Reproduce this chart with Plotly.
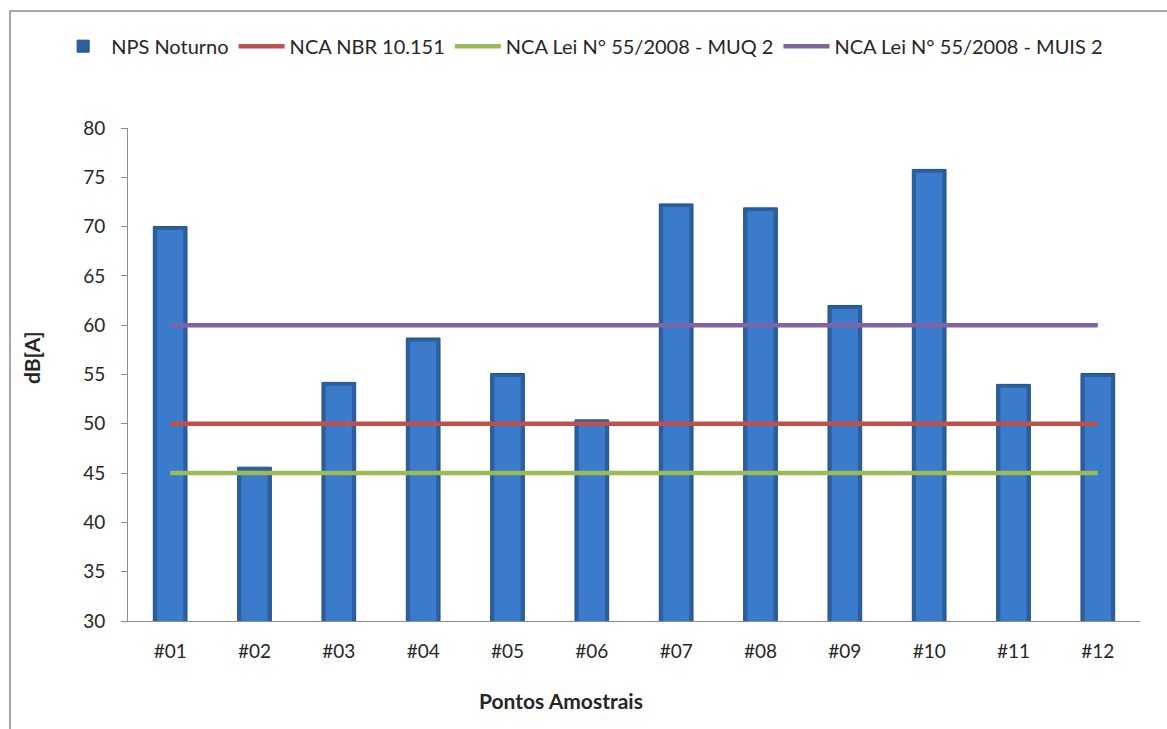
import plotly.graph_objects as go

# Sampling points and night-time noise levels, dB(A)
pontos = ["#01", "#02", "#03", "#04", "#05", "#06",
          "#07", "#08", "#09", "#10", "#11", "#12"]
nps_noturno = [70.0, 45.6, 54.2, 58.7, 55.1, 50.4,
               72.3, 71.9, 62.0, 75.8, 54.0, 55.1]

# Reference limits (NCA) applied to every point
nca_nbr = [50] * len(pontos)
nca_muq2 = [45] * len(pontos)
nca_muis2 = [60] * len(pontos)

y_ticks = [30, 35, 40, 45, 50, 55, 60, 65, 70, 75, 80]

FONT = "Lato, 'Open Sans', sans-serif"
TEXT = "#262626"
AXIS = "#8c8c8c"

fig = go.Figure()

# Outer (dark edge) bar
fig.add_trace(go.Bar(
    x=pontos, y=nps_noturno, name="NPS Noturno",
    width=0.4,
    marker=dict(color="#2C5F9E", line=dict(color="#244F86", width=1)),
))
# Inner lighter face of the bar
fig.add_trace(go.Bar(
    x=pontos, y=[v - 0.35 for v in nps_noturno],
    width=0.31, name="NPS Noturno face",
    marker=dict(color="#3B7BCB", line=dict(width=0)),
    showlegend=False, hoverinfo="skip",
))

line_style = dict(width=4.5)
fig.add_trace(go.Scatter(
    x=pontos, y=nca_nbr, mode="lines", name="NCA NBR 10.151",
    line=dict(color="#C0504D", **line_style),
))
fig.add_trace(go.Scatter(
    x=pontos, y=nca_muq2, mode="lines", name="NCA Lei N° 55/2008 - MUQ 2",
    line=dict(color="#9BBB59", **line_style),
))
fig.add_trace(go.Scatter(
    x=pontos, y=nca_muis2, mode="lines", name="NCA Lei N° 55/2008 - MUIS 2",
    line=dict(color="#8064A2", **line_style),
))

fig.update_layout(
    width=1167, height=729,
    margin=dict(l=128, r=27, t=128, b=108),
    paper_bgcolor="white", plot_bgcolor="white",
    barmode="overlay",
    font=dict(family=FONT, size=19, color=TEXT),
    legend=dict(
        orientation="h", x=-0.072, xanchor="left", y=1.166, yanchor="middle",
        font=dict(size=20, color=TEXT), itemwidth=46,
        bgcolor="rgba(0,0,0,0)",
    ),
    xaxis=dict(
        type="category", showgrid=False, zeroline=False,
        showline=True, linecolor=AXIS, linewidth=1,
        ticks="", tickfont=dict(size=19, color=TEXT), ticklabelstandoff=13,
    ),
    yaxis=dict(
        range=[30, 80], tickvals=y_ticks, showgrid=False, zeroline=False,
        showline=True, linecolor=AXIS, linewidth=1,
        ticks="outside", ticklen=6, tickcolor=AXIS,
        tickfont=dict(size=19, color=TEXT), ticklabelstandoff=12,
    ),
    annotations=[
        dict(text="<b>Pontos Amostrais</b>", xref="paper", yref="paper",
             x=(561 - 128) / 1012, y=-(700 - 621) / 493,
             xanchor="center", yanchor="middle", showarrow=False,
             font=dict(size=21, color=TEXT)),
        dict(text="<b>dB[A]</b>", xref="paper", yref="paper",
             x=(31 - 128) / 1012, y=(621 - 358) / 493, textangle=-90,
             xanchor="center", yanchor="middle", showarrow=False,
             font=dict(size=21, color=TEXT)),
    ],
    shapes=[dict(
        type="rect", xref="paper", yref="paper",
        x0=(10 - 128) / 1012, x1=1.2, y0=-0.4, y1=1 + (128 - 11) / 493,
        line=dict(color=AXIS, width=1.5), fillcolor="rgba(0,0,0,0)",
        layer="below",
    )],
)

fig.write_html("out.html")
